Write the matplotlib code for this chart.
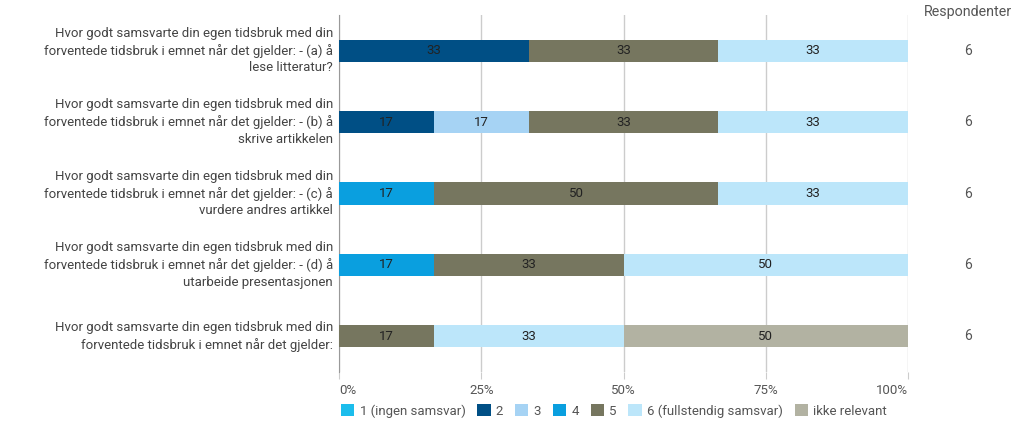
import numpy as np
import matplotlib.pyplot as plt

plt.rcParams['font.family'] = ['Roboto', 'DejaVu Sans']

questions = [
    'Hvor godt samsvarte din egen tidsbruk med din\nforventede tidsbruk i emnet når det gjelder: - (a) å\nlese litteratur?',
    'Hvor godt samsvarte din egen tidsbruk med din\nforventede tidsbruk i emnet når det gjelder: - (b) å\nskrive artikkelen',
    'Hvor godt samsvarte din egen tidsbruk med din\nforventede tidsbruk i emnet når det gjelder: - (c) å\nvurdere andres artikkel',
    'Hvor godt samsvarte din egen tidsbruk med din\nforventede tidsbruk i emnet når det gjelder: - (d) å\nutarbeide presentasjonen',
    'Hvor godt samsvarte din egen tidsbruk med din\nforventede tidsbruk i emnet når det gjelder:',
]
categories = ['1 (ingen samsvar)', '2', '3', '4', '5', '6 (fullstendig samsvar)', 'ikke relevant']
colors = ['#1cbdec', '#004f85', '#a6d3f4', '#0a9fdf', '#76765f', '#bce6fa', '#b2b2a2']

# prosent per kategori, en rad per spørsmål
pct = np.array([
    [0, 33.33, 0, 0, 33.33, 33.33, 0],
    [0, 16.67, 16.67, 0, 33.33, 33.33, 0],
    [0, 0, 0, 16.67, 50.0, 33.33, 0],
    [0, 0, 0, 16.67, 33.33, 50.0, 0],
    [0, 0, 0, 0, 16.67, 33.33, 50.0],
])
respondents = [6, 6, 6, 6, 6]

fig = plt.figure(figsize=(10.24, 4.24), dpi=100)
ax = fig.add_axes([339 / 1024, 1 - 372 / 424, (908 - 339) / 1024, (372 - 15) / 424])

y = np.arange(len(questions))
left = np.zeros(len(questions))
for j, cat in enumerate(categories):
    vals = pct[:, j]
    ax.barh(y, vals, left=left, height=0.31, color=colors[j], label=cat, zorder=3)
    for i, v in enumerate(vals):
        if v > 0:
            ax.text(left[i] + v / 2, y[i], '%d' % round(v), ha='center', va='center',
                    fontsize=9.5, color='#222222', zorder=4)
    left += vals

ax.set_xlim(0, 100)
ax.set_ylim(len(questions) - 0.5, -0.5)
ax.set_xticks([0, 25, 50, 75, 100])
ax.set_xticklabels(['0%', '25%', '50%', '75%', '100%'], fontsize=9.5, color='#555555')
xl = ax.get_xticklabels()
xl[0].set_horizontalalignment('left')
xl[-1].set_horizontalalignment('right')
ax.xaxis.grid(True, color='#cccccc', linewidth=1, zorder=0)
ax.tick_params(axis='x', length=5, color='#cccccc', pad=4)
ax.set_yticks(y)
ax.set_yticks([])
for i, q in enumerate(questions):
    ax.text(-6 / 569, y[i], q, transform=ax.get_yaxis_transform(), ha='right', va='center',
            multialignment='right', fontsize=9.5, color='#444444', linespacing=1.35)
for s in ['top', 'right', 'bottom']:
    ax.spines[s].set_visible(False)
ax.spines['left'].set_color('#999999')

# respondenter-kolonne
fig.text(968 / 1024, 1 - 12 / 424, 'Respondenter', ha='center', va='center', fontsize=10.3, color='#555555')
for i, n in enumerate(respondents):
    ax.text(1.106, y[i], str(n), transform=ax.get_yaxis_transform(), ha='center', va='center',
            fontsize=10, color='#555555')

leg = fig.legend(loc='center', bbox_to_anchor=(614 / 1024, 1 - 411 / 424), ncol=7, frameon=False,
                 fontsize=9.5, handlelength=1.0, handleheight=1.0, handletextpad=0.4, columnspacing=0.9)
for t in leg.get_texts():
    t.set_color('#555555')

fig.savefig('out.png', dpi=100)
